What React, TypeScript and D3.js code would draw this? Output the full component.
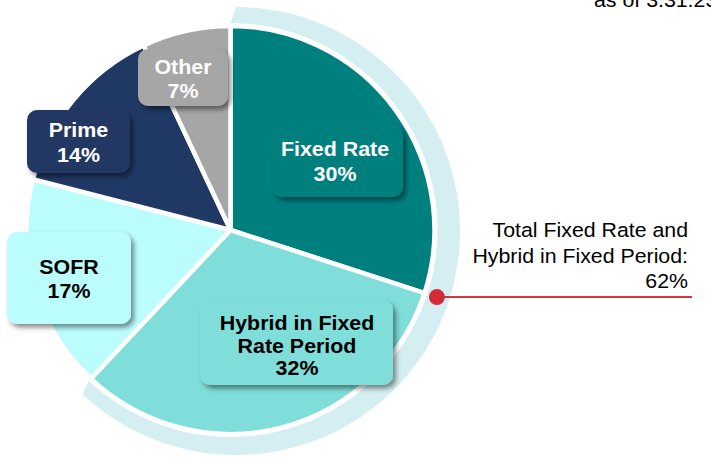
import React from "react";
import * as d3 from "d3";

const categories = ["Fixed Rate", "Hybrid in Fixed Rate Period", "SOFR", "Prime", "Other"];
const shares = [30, 32, 17, 14, 7];
const nameLines = [["Fixed Rate"], ["Hybrid in Fixed", "Rate Period"], ["SOFR"], ["Prime"], ["Other"]];
const sliceColors = ["#007f7f", "#7fded9", "#bafdfc", "#203864", "#a6a6a6"];
const textColors = ["#ffffff", "#000000", "#000000", "#ffffff", "#ffffff"];
const asOfLabel = "as of 3.31.23";
const totalLines = ["Total Fixed Rate and", "Hybrid in Fixed Period:"];

// layout (label box centres / sizes, first baseline, line step)
const boxLayout = [
  { cx: 337.5, cy: 161, w: 131, h: 72, tx: 335, ty: 156, step: 25 },
  { cx: 296.5, cy: 342.5, w: 193, h: 85, tx: 297, ty: 330, step: 22.5 },
  { cx: 69, cy: 278, w: 124, h: 92, tx: 69, ty: 274, step: 24 },
  { cx: 78.5, cy: 141.5, w: 103, h: 63, tx: 78.5, ty: 137, step: 25 },
  { cx: 183, cy: 77.5, w: 90, h: 57, tx: 183, ty: 74, step: 24 },
];

const W = 711;
const H = 462;
const center = { x: 230.5, y: 230 };
const R = 204;
const ringInner = { x: 230.5, y: 230, r: 207 };
const ringOuter = { x: 236, y: 231, r: 224 };
const FONT = "'Liberation Sans', Arial, Helvetica, sans-serif";

function ringPath(a0: number, a1: number) {
  const p = d3.path();
  const t0 = a0 - Math.PI / 2;
  const t1 = a1 - Math.PI / 2;
  p.moveTo(ringOuter.x + ringOuter.r * Math.cos(t0), ringOuter.y + ringOuter.r * Math.sin(t0));
  p.arc(ringOuter.x, ringOuter.y, ringOuter.r, t0, t1, false);
  p.lineTo(ringInner.x + ringInner.r * Math.cos(t1), ringInner.y + ringInner.r * Math.sin(t1));
  p.arc(ringInner.x, ringInner.y, ringInner.r, t1, t0, true);
  p.closePath();
  return p.toString();
}

export default function App() {
  const pie = d3.pie<number>().sort(null).value((d) => d);
  const arcs = pie(shares);
  const arcGen = d3.arc<d3.PieArcDatum<number>>().innerRadius(0).outerRadius(R);
  const fixedTotal = shares[0] + shares[1];
  const ringEnd = arcs[1].endAngle;
  const dotAngle = arcs[0].endAngle - Math.PI / 2;
  const dotR = 217;
  const dot = { x: center.x + dotR * Math.cos(dotAngle), y: center.y + dotR * Math.sin(dotAngle) };

  return (
    <svg width={W} height={H} viewBox={`0 0 ${W} ${H}`} style={{ position: "fixed", left: 0, top: 0, background: "#fff" }}>
      <defs>
        <filter id="shadow" x="-20%" y="-20%" width="150%" height="160%">
          <feDropShadow dx="3" dy="3.5" stdDeviation="2.5" floodColor="#000" floodOpacity="0.45" />
        </filter>
      </defs>
      <rect width={W} height={H} fill="#fff" />
      <text transform={`translate(594,7) scale(1.04,1)`} fontFamily={FONT} fontSize={20.5} fill="#000">{asOfLabel}</text>

      <path d={ringPath(0, ringEnd)} fill="#d4eef1" />

      <g transform={`translate(${center.x},${center.y})`}>
        {arcs.map((a, i) => (
          <path key={categories[i]} d={arcGen(a) || ""} fill={sliceColors[i]} stroke="#fff" strokeWidth={4.5} strokeLinejoin="round" />
        ))}
      </g>

      {arcs.map((a, i) => {
        const b = boxLayout[i];
        const lines = [...nameLines[i], `${shares[i]}%`];
        return (
          <g key={"lab" + i}>
            <rect x={b.cx - b.w / 2} y={b.cy - b.h / 2} width={b.w} height={b.h} rx={10} ry={10} fill={sliceColors[i]} filter="url(#shadow)" />
            {lines.map((l, j) => (
              <text key={j} transform={`translate(${b.tx},${b.ty + j * b.step}) scale(1.07,1)`} textAnchor="middle" fontFamily={FONT} fontWeight="bold" fontSize={20} fill={textColors[i]}>{l}</text>
            ))}
          </g>
        );
      })}

      <line x1={dot.x} y1={dot.y} x2={692} y2={dot.y} stroke="#d7353f" strokeWidth={2} />
      <circle cx={dot.x} cy={dot.y} r={8} fill="#d42a38" />

      {[...totalLines, `${fixedTotal}%`].map((l, i) => (
        <text key={"t" + i} transform={`translate(688,${237 + i * 25.5}) scale(1.04,1)`} textAnchor="end" fontFamily={FONT} fontSize={20.5} fill="#000">{l}</text>
      ))}
    </svg>
  );
}
